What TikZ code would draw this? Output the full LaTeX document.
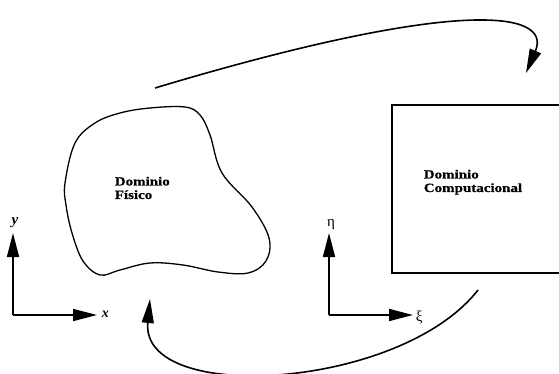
\documentclass[tikz,border=0pt]{standalone}
\usepackage{fontspec}
\setmainfont{Liberation Serif}
\newfontfamily\widefont[FakeStretch=1.2,FakeBold=0.6]{Liberation Serif}
\usetikzlibrary{arrows.meta}
\begin{document}
\begin{tikzpicture}[x=1pt,y=-1pt,
  line width=1.6pt,
  bigtip/.style={-{Triangle[length=24pt,width=12pt]}},
  domlabel/.style={font=\widefont\bfseries\fontsize{12.5}{13.5}\selectfont,
    align=left, inner sep=0pt, anchor=north west},
  axislabel/.style={font=\fontsize{15}{15}\selectfont, inner sep=0pt}]
\useasboundingbox (0,0) rectangle (559,374);

% physical domain (free-form region)
\draw[line width=1.3pt] plot[smooth cycle, tension=0.6] coordinates {
  (65,183) (75,143) (95,123) (120,113) (150,108) (185,107) (200,115)
  (210,135) (222,173) (252,207) (269,238) (266,261) (248,273) (218,272)
  (183,265) (150,263) (120,270) (100,275) (83,261) (72,233) (66,205)};
\node[domlabel] (fis) at (114,176) {Dominio\\Físico};

% computational domain
\draw[line width=1.3pt] (559,105) -- (392,105) -- (392,273) -- (559,273);
\node[domlabel] (comp) at (423,169) {Dominio\\Computacional};

% physical axes
\coordinate (o1) at (13,315);
\coordinate (y1) at (13,233);
\coordinate (x1) at (97,315);
\draw[bigtip] (o1) -- (y1);
\draw[bigtip] (o1) -- (x1);
\node[axislabel, font=\bfseries\itshape\fontsize{15}{15}\selectfont, anchor=south] (ylab) at (15,229) {y};
\node[axislabel, font=\bfseries\itshape\fontsize{14}{14}\selectfont, anchor=west] (xlab) at (101,314) {x};

% computational axes
\coordinate (o2) at (329,315);
\coordinate (y2) at (329,233);
\coordinate (x2) at (413,315);
\draw[bigtip] (o2) -- (y2);
\draw[bigtip] (o2) -- (x2);
\node[axislabel, anchor=south] (etalab) at (331,230) {η};
\node[axislabel, anchor=west] (xilab) at (415,318) {ξ};

% mappings between the domains
\coordinate (m1s) at (155,88);
\coordinate (m1e) at (526,73);
\draw[bigtip] (m1s) .. controls (455,-2) and (553,10) .. (m1e);
\coordinate (m2s) at (478,290);
\coordinate (m2e) at (150,299);
\draw[bigtip] (m2s) .. controls (400,390) and (140,405) .. (m2e);
\end{tikzpicture}
\end{document}
